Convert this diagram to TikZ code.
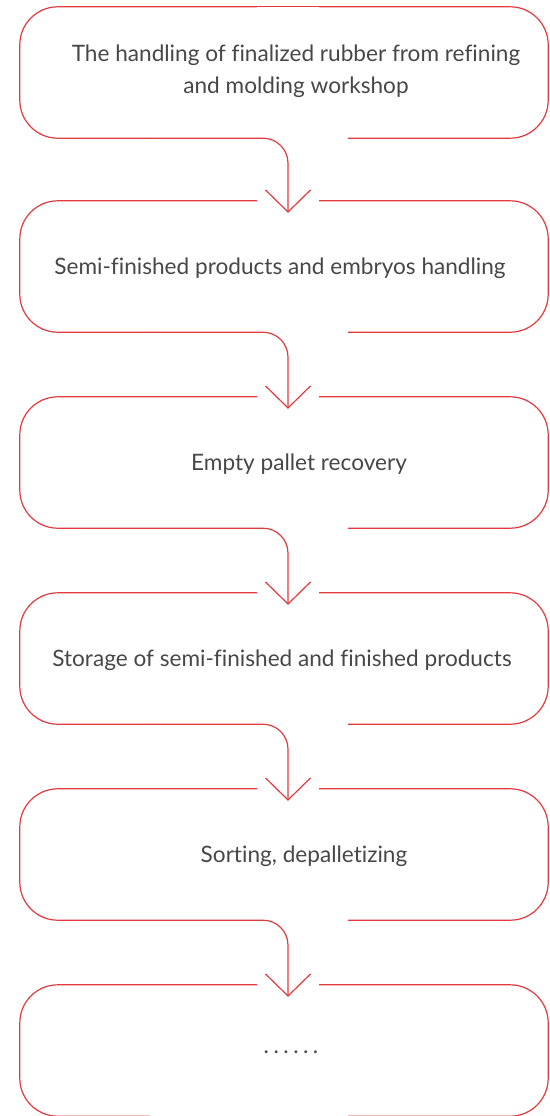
\documentclass[tikz,border=0pt]{standalone}
\usepackage{fontspec}
\setmainfont{Lato}[Ligatures=NoCommon]
\usetikzlibrary{arrows.meta}
\definecolor{flowred}{HTML}{E23B3F}
\definecolor{txtgray}{HTML}{474747}
\begin{document}
\begin{tikzpicture}[x=1pt,y=-1pt,
  main node/.style={minimum width=528pt,minimum height=131pt,inner sep=0pt},
  boxline/.style={draw=flowred,line width=1.2pt,rounded corners=38pt},
  flow/.style={draw=flowred,line width=1.2pt,rounded corners=25pt,
    -{Straight Barb[length=22pt,width=45pt]}},
  txt/.style={text=txtgray,font=\fontsize{22.6}{32}\selectfont,align=center}]
  \useasboundingbox (0,0) rectangle (549,1116);
  \node[main node] (box1) at (284,72.5) {};
  \node[main node] (box2) at (284,266.5) {};
  \node[main node] (box3) at (284,462.5) {};
  \node[main node] (box4) at (284,658.5) {};
  \node[main node] (box5) at (284,854.5) {};
  \node[main node] (box6) at (284,1050.5) {};
  \foreach \i in {1,...,6}{
    \draw[boxline] ([xshift=35pt]box\i.north) -- (box\i.north east)
      -- (box\i.south east) -- ([xshift=64pt]box\i.south);
    \draw[boxline] ([xshift=-27pt]box\i.north) -- (box\i.north west)
      -- (box\i.south west) -- ([xshift=-134pt]box\i.south);
  }
  \draw[boxline] ([xshift=-27pt]box1.north) -- ([xshift=35pt]box1.north);
  \draw[boxline] ([xshift=-134pt]box6.south) -- ([xshift=64pt]box6.south);
  \foreach \i/\j in {1/2,2/3,3/4,4/5,5/6}
    \draw[flow] ([xshift=-134pt]box\i.south) -| ([xshift=4pt,yshift=-12pt]box\j.north);
  \node[txt] (t1) at (296,71) {The handling of finalized rubber from refining\\and molding workshop};
  \node[txt] (t2) at (280,268) {Semi-finished products and embryos handling};
  \node[txt] (t3) at (299,464) {Empty pallet recovery};
  \node[txt] (t4) at (282,660) {Storage of semi-finished and finished products};
  \node[txt] (t5) at (304,856) {Sorting, depalletizing};
  \node[txt] (t6) at (291,1052) {\addfontfeature{LetterSpace=20}......};
\end{tikzpicture}
\end{document}
